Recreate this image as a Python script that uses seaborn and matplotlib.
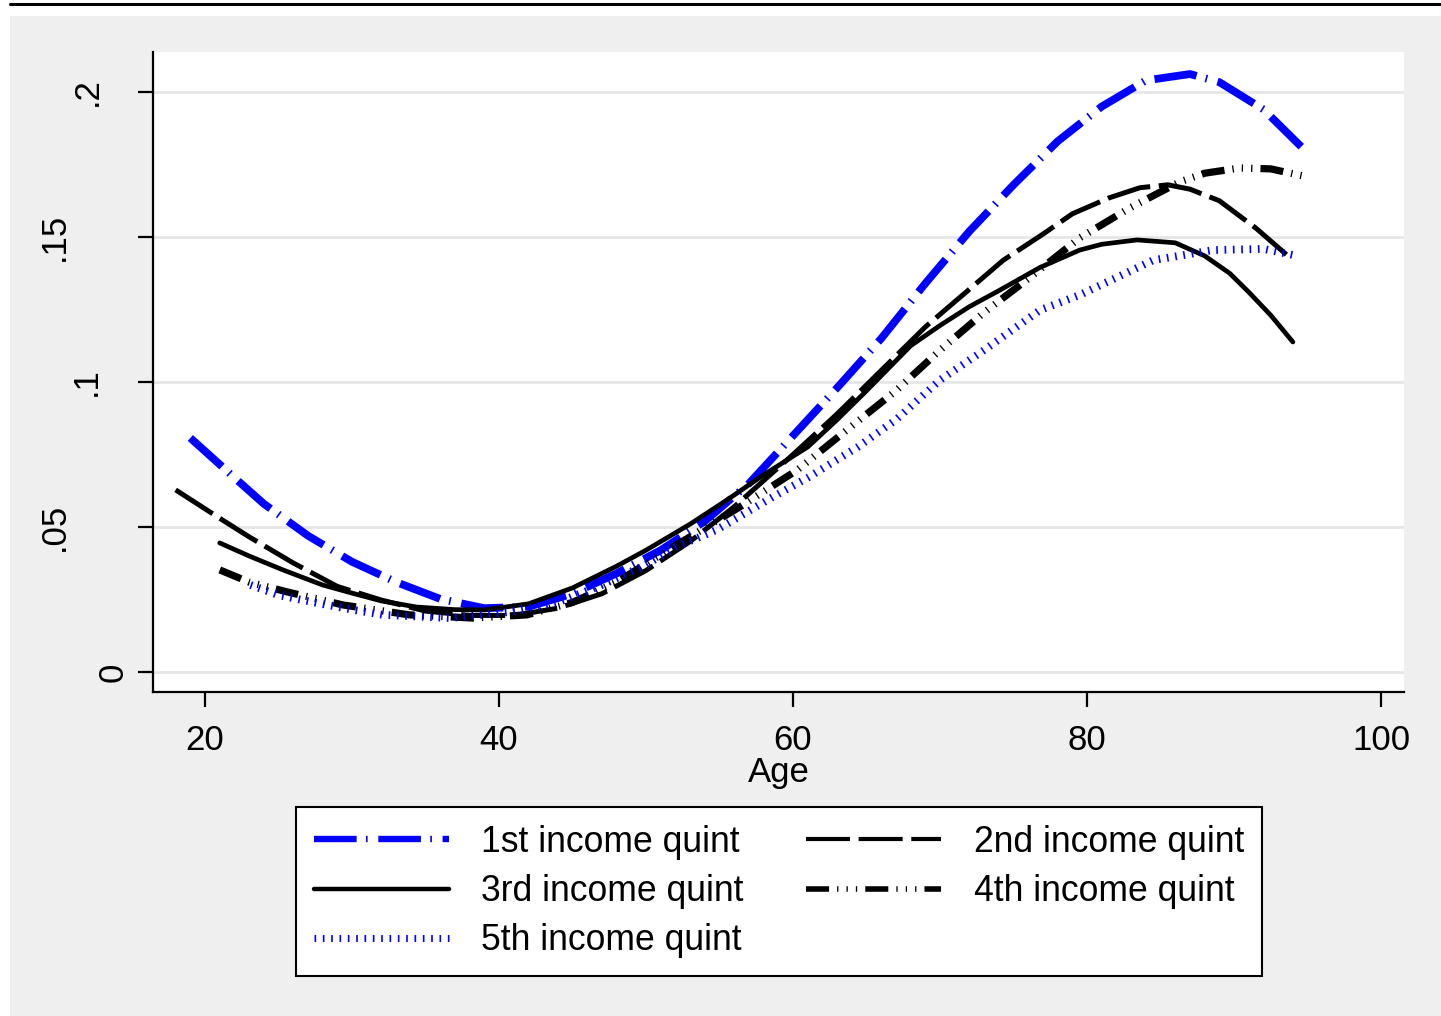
import seaborn as sns
import matplotlib.pyplot as plt
from matplotlib.patches import Rectangle
from matplotlib.lines import Line2D
from matplotlib import transforms

# values
age_q1 = [19, 22, 24, 27, 30, 33, 36, 39, 42, 45, 48, 51, 54, 57, 60, 63, 66, 69, 72, 75, 78, 81, 84, 87, 89, 92, 95]
share_q1 = [0.0807, 0.067, 0.058, 0.047, 0.038, 0.031, 0.0252, 0.022, 0.0225, 0.027, 0.034, 0.042, 0.052, 0.065,
            0.0815, 0.098, 0.115, 0.134, 0.152, 0.168, 0.183, 0.195, 0.204, 0.2062, 0.2034, 0.194, 0.179]

age_q2 = [18, 21, 23, 26, 29, 32, 35, 38, 41, 44, 47, 50, 53, 56, 60, 63, 66, 69, 72, 74.3, 77, 79, 81.5, 83.6, 85.5,
          87, 89, 91.5, 94]
share_q2 = [0.0628, 0.053, 0.0466, 0.0376, 0.0295, 0.0248, 0.021, 0.0195, 0.0195, 0.022, 0.027, 0.035, 0.045, 0.057,
            0.075, 0.089, 0.104, 0.119, 0.132, 0.142, 0.151, 0.158, 0.1635, 0.167, 0.168, 0.1665, 0.1625, 0.153, 0.142]

age_q3 = [21, 23, 25.3, 28, 30, 32, 34.4, 37, 39, 42, 45, 48, 50, 53, 55.5, 58, 61, 63, 65, 68, 70, 72, 74, 76.8,
          79.5, 81, 83.4, 86, 88, 89.7, 91, 92.5, 94]
share_q3 = [0.0445, 0.040, 0.0352, 0.030, 0.0272, 0.0245, 0.0224, 0.0215, 0.0214, 0.0235, 0.029, 0.0365, 0.042,
            0.051, 0.0593, 0.068, 0.0776, 0.087, 0.097, 0.1125, 0.1195, 0.126, 0.1315, 0.1395, 0.1455, 0.1475, 0.149,
            0.148, 0.1435, 0.1375, 0.131, 0.123, 0.1138]

age_q4 = [21, 23, 25.6, 29.4, 33.9, 38.2, 41.9, 45, 48, 52.3, 56.4, 60.3, 63.4, 67, 70, 73, 76.1, 79.5, 82.9, 86.3,
          88, 90.4, 92.5, 95]
share_q4 = [0.0352, 0.031, 0.0276, 0.0231, 0.0197, 0.0186, 0.0197, 0.024, 0.031, 0.0445, 0.057, 0.0697, 0.0824,
            0.097, 0.111, 0.124, 0.136, 0.1497, 0.160, 0.169, 0.172, 0.1738, 0.1735, 0.1707]

age_q5 = [23.1, 25, 27.6, 30, 32.1, 36.7, 40.7, 44, 47, 50, 52, 54.8, 58.6, 61, 64.4, 67, 70, 73, 76.8, 79.5, 82,
          84.5, 88.6, 92, 94]
share_q5 = [0.030, 0.0265, 0.0238, 0.0215, 0.0197, 0.0186, 0.0207, 0.024, 0.030, 0.037, 0.043, 0.049, 0.0603, 0.067,
            0.0776, 0.087, 0.1007, 0.111, 0.1248, 0.130, 0.136, 0.142, 0.1455, 0.1459, 0.1438]

labels = ["1st income quint", "2nd income quint", "3rd income quint", "4th income quint", "5th income quint"]
x_ticks = [20, 40, 60, 80, 100]
y_ticks = [0, 0.05, 0.1, 0.15, 0.2]
y_tick_labels = ["0", ".05", ".1", ".15", ".2"]

sns.set_style("ticks")
plt.rcParams["font.family"] = ["Liberation Sans", "DejaVu Sans"]
plt.rcParams["lines.scale_dashes"] = False
for k in ["text.color", "axes.labelcolor", "xtick.color", "ytick.color"]:
    plt.rcParams[k] = "black"

W, H = 1441, 1016
fig = plt.figure(figsize=(W / 100, H / 100), dpi=100)
fig.patch.set_facecolor("white")
fig.patches.append(Rectangle((10 / W, 0), 1, 1 - 16 / H, transform=fig.transFigure,
                             facecolor="#efefef", edgecolor="none", zorder=-10))
fig.add_artist(Line2D([10 / W, 1], [1 - 4 / H] * 2, transform=fig.transFigure, color="black", lw=2.2))

ax = fig.add_axes([153 / W, 1 - 692 / H, 1251 / W, 640 / H])
ax.set_facecolor("white")

# (x, y, colour, plot width, legend width, dash pattern)
series = [
    (age_q1, share_q1, "#0000ff", 5.6, 4.6, (0, (30.7, 6.7, 1.2, 7.7))),
    (age_q2, share_q2, "black", 3.6, 3.0, (0, (31.7, 6.2))),
    (age_q3, share_q3, "black", 3.4, 3.2, "-"),
    (age_q4, share_q4, "black", 5.2, 4.0, (0, (16.6, 5.8, 0.95, 5.8, 0.95, 5.8, 0.95, 5.8))),
    (age_q5, share_q5, "#0000ff", 5.6, 5.0, (0, (1.2, 4.8))),
]
for ages, vals, col, lw, _, ls in series:
    sns.lineplot(x=ages, y=vals, ax=ax, color=col, lw=lw, linestyle=ls, legend=False)

ax.set_xlim(16.46, 101.56)
ax.set_ylim(-0.0069, 0.2138)
ax.set_xticks(x_ticks)
ax.set_yticks(y_ticks)
ax.set_yticklabels([])
ax.grid(axis="y", color="#e6e6e6", lw=2)
ax.set_axisbelow(True)
sns.despine(ax=ax)
for s in ["left", "bottom"]:
    ax.spines[s].set_linewidth(1.6)
    ax.spines[s].set_color("black")
ax.tick_params(axis="both", length=11, width=1.6, color="black", labelsize=25, pad=12)
ax.set_xlabel("Age", fontsize=25, labelpad=-1)
ax.set_ylabel("")

# Stata-style rotated y labels, staggered by string length
label_x = {"0": 113.5, ".05": 54, ".1": 86, ".15": 54, ".2": 87}
trans = transforms.blended_transform_factory(fig.transFigure, ax.transData)
for v, t in zip(y_ticks, y_tick_labels):
    ax.text(label_x[t] / W, v, t, transform=trans, rotation=90, ha="center", va="center", fontsize=25)

lines = ax.get_lines()
order = [0, 2, 4, 1, 3]
leg = fig.legend([lines[i] for i in order], [labels[i] for i in order], ncol=2,
                 loc="upper center", bbox_to_anchor=(779 / W, 1 - 807 / H), fontsize=25.6,
                 frameon=True, fancybox=False, framealpha=1, edgecolor="black",
                 handlelength=3.8, handletextpad=0.92, columnspacing=1.75, labelspacing=0.4,
                 borderpad=0.5, borderaxespad=0)
leg.get_frame().set_linewidth(1.5)
for h, i in zip(leg.get_lines(), order):
    h.set_linewidth(series[i][4])

fig.savefig("out.png", dpi=100)
